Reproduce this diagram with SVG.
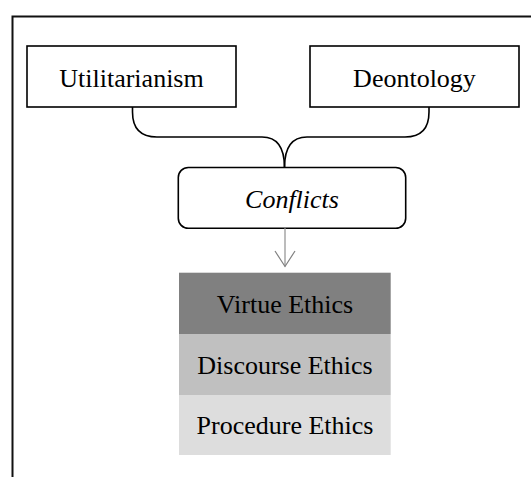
<svg xmlns="http://www.w3.org/2000/svg" width="531" height="477" viewBox="0 0 531 477">
<style>
.box{fill:#fff;stroke:#000;stroke-width:1.6}
.t{font-family:"Liberation Serif","Times New Roman",serif;font-size:26px;fill:#000;text-anchor:middle}
.conn{fill:none;stroke:#000;stroke-width:1.6}
</style>
<rect width="531" height="477" fill="#fff"/>
<g id="frame"><path d="M12.5,477 V16.5 H531" fill="none" stroke="#111" stroke-width="2"/></g>
<g id="utilitarianism"><rect class="box" x="27" y="46" width="209" height="61"/><text class="t" x="131.5" y="87">Utilitarianism</text></g>
<g id="deontology"><rect class="box" x="310" y="46" width="209" height="61"/><text class="t" x="414.5" y="87">Deontology</text></g>
<g id="conflicts"><rect class="box" x="178.3" y="167.5" width="227.4" height="60.8" rx="10"/><text class="t" x="292" y="208.3" font-style="italic">Conflicts</text></g>
<g id="virtue"><rect x="179" y="272.7" width="211.7" height="61.3" fill="#808080"/><text class="t" x="285" y="313.3">Virtue Ethics</text></g>
<g id="discourse"><rect x="179" y="334" width="211.7" height="61" fill="#c0c0c0"/><text class="t" x="285" y="374.3">Discourse Ethics</text></g>
<g id="procedure"><rect x="179" y="395" width="211.7" height="60" fill="#dddddd"/><text class="t" x="285" y="434">Procedure Ethics</text></g>
<g id="connectors">
<path class="conn" d="M132.5,107 V112 Q132.5,137 157,137 H262 Q284.5,137 284.5,167.5"/>
<path class="conn" d="M429,107 V112 Q429,137 405,137 H307 Q284.5,137 284.5,167.5"/>
<line x1="285" y1="228.3" x2="285" y2="266.5" stroke="#a0a0a0" stroke-width="1.4"/>
<path d="M275,251 L285,266.5 L295,251" fill="none" stroke="#808080" stroke-width="1.2"/>
</g>
</svg>
